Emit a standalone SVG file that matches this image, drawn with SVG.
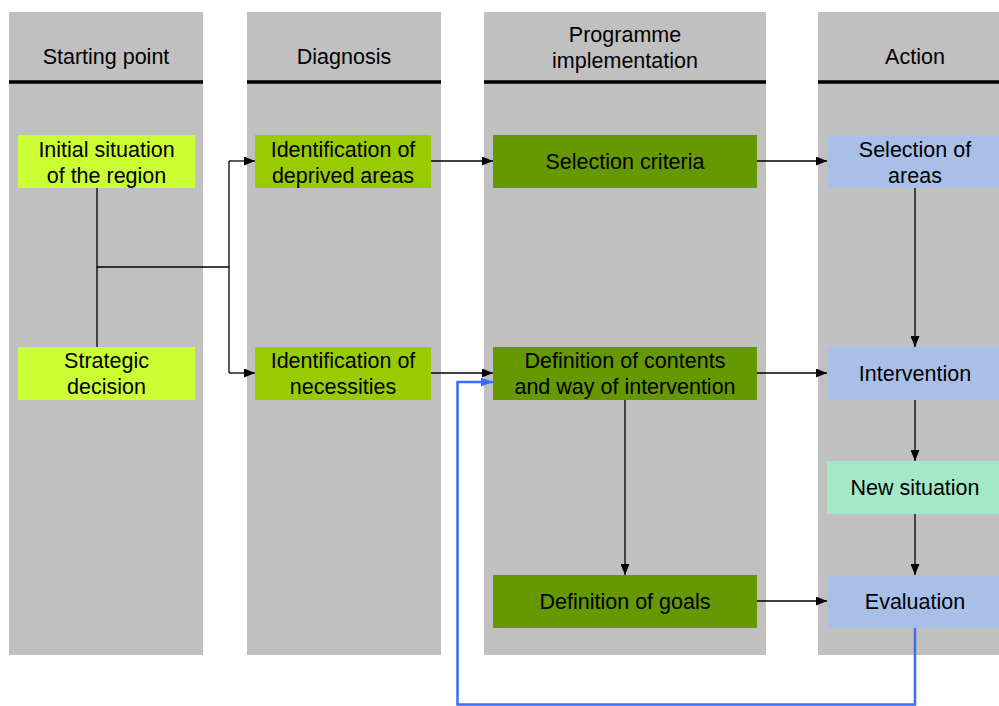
<svg xmlns="http://www.w3.org/2000/svg" width="999" height="706" viewBox="0 0 999 706">
<style>
.col{fill:#c0c0c0}
.hdr{stroke:#000;stroke-width:3.5}
text{font-family:"Liberation Sans",Arial,sans-serif;font-size:21.5px;fill:#000;text-anchor:middle}
.c{stroke:#000;stroke-width:1.3;fill:none}
.b{stroke:#3a6ef8;stroke-width:2.5;fill:none}
.lime{fill:#ccff33}
.green{fill:#99cc00}
.dark{fill:#669900}
.blue{fill:#a9bfe8}
.mint{fill:#a3e9c8}
</style>
<defs>
<marker id="ah" markerWidth="11" markerHeight="9" refX="11" refY="4.5" orient="auto" markerUnits="userSpaceOnUse">
<path d="M0,0 L11,4.5 L0,9 Z" fill="#000"/>
</marker>
<marker id="ahb" markerWidth="12" markerHeight="9" refX="12" refY="4.5" orient="auto" markerUnits="userSpaceOnUse">
<path d="M0,0 L12,4.5 L0,9 Z" fill="#3a6ef8"/>
</marker>
</defs>
<rect width="999" height="706" fill="#fff"/>
<g id="columns">
<rect class="col" x="9" y="12" width="194" height="643"/>
<rect class="col" x="247" y="12" width="194" height="643"/>
<rect class="col" x="484" y="12" width="282" height="643"/>
<rect class="col" x="818" y="12" width="194" height="643"/>
<line class="hdr" x1="9" y1="82" x2="203" y2="82"/>
<line class="hdr" x1="247" y1="82" x2="441" y2="82"/>
<line class="hdr" x1="484" y1="82" x2="766" y2="82"/>
<line class="hdr" x1="818" y1="82" x2="999" y2="82"/>
<text x="106" y="64">Starting point</text>
<text x="344" y="64">Diagnosis</text>
<text x="625" y="42">Programme</text>
<text x="625" y="68">implementation</text>
<text x="915" y="64">Action</text>
</g>
<g id="connectors">
<path class="c" d="M97,188 V347"/>
<path class="c" d="M97,267 H229"/>
<path class="c" d="M229,161 V373"/>
<path class="c" d="M229,161 H255" marker-end="url(#ah)"/>
<path class="c" d="M229,373 H255" marker-end="url(#ah)"/>
<path class="c" d="M431,161 H493" marker-end="url(#ah)"/>
<path class="c" d="M757,161 H827" marker-end="url(#ah)"/>
<path class="c" d="M431,373 H493" marker-end="url(#ah)"/>
<path class="c" d="M757,373 H827" marker-end="url(#ah)"/>
<path class="c" d="M915,188 V347" marker-end="url(#ah)"/>
<path class="c" d="M915,400 V461" marker-end="url(#ah)"/>
<path class="c" d="M915,514 V575" marker-end="url(#ah)"/>
<path class="c" d="M625,400 V575" marker-end="url(#ah)"/>
<path class="c" d="M757,601 H827" marker-end="url(#ah)"/>
<path class="b" d="M915,628 V704.5 H457.5 V382 H493" marker-end="url(#ahb)"/>
</g>
<g id="initial"><rect class="lime" x="18" y="135" width="177" height="53"/><text x="106.5" y="157">Initial situation</text><text x="106.5" y="183">of the region</text></g>
<g id="strategic"><rect class="lime" x="18" y="347" width="177" height="53"/><text x="106.5" y="368">Strategic</text><text x="106.5" y="394">decision</text></g>
<g id="deprived"><rect class="green" x="255" y="135" width="176" height="53"/><text x="343" y="157">Identification of</text><text x="343" y="183">deprived areas</text></g>
<g id="necessities"><rect class="green" x="255" y="347" width="176" height="53"/><text x="343" y="368">Identification of</text><text x="343" y="394">necessities</text></g>
<g id="criteria"><rect class="dark" x="493" y="135" width="264" height="53"/><text x="625" y="169">Selection criteria</text></g>
<g id="contents"><rect class="dark" x="493" y="347" width="264" height="53"/><text x="625" y="368">Definition of contents</text><text x="625" y="394">and way of intervention</text></g>
<g id="goals"><rect class="dark" x="493" y="575" width="264" height="53"/><text x="625" y="609">Definition of goals</text></g>
<g id="areas"><rect class="blue" x="827" y="135" width="177" height="53"/><text x="915" y="157">Selection of</text><text x="915" y="183">areas</text></g>
<g id="intervention"><rect class="blue" x="827" y="347" width="177" height="53"/><text x="915" y="381">Intervention</text></g>
<g id="newsituation"><rect class="mint" x="827" y="461" width="177" height="53"/><text x="915" y="495">New situation</text></g>
<g id="evaluation"><rect class="blue" x="827" y="575" width="177" height="53"/><text x="915" y="609">Evaluation</text></g>
</svg>
